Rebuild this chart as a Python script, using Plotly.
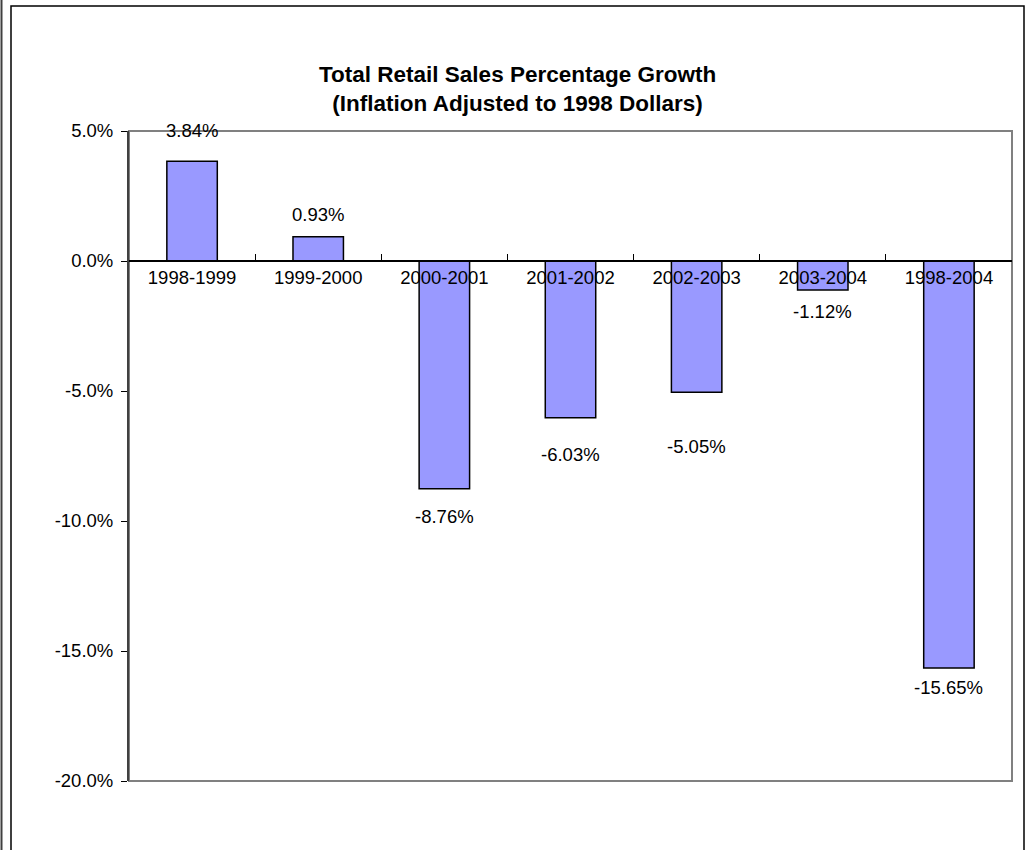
import plotly.graph_objects as go

categories = ["1998-1999", "1999-2000", "2000-2001", "2001-2002", "2002-2003", "2003-2004", "1998-2004"]
growth_pct = [3.84, 0.93, -8.76, -6.03, -5.05, -1.12, -15.65]
y_tick_vals = [5, 0, -5, -10, -15, -20]
y_tick_text = ["5.0%", "0.0%", "-5.0%", "-10.0%", "-15.0%", "-20.0%"]

# pixel offsets of the value labels relative to bar ends (style)
label_shift = [31, 22, -28, -37, -54, -21, -20]

FONT = "Liberation Sans, Arial, sans-serif"
LBL = 18.5

fig = go.Figure()
fig.add_trace(go.Bar(
    x=categories, y=growth_pct,
    marker=dict(color="#9999FF", line=dict(color="black", width=1.5)),
    width=0.4, showlegend=False, hoverinfo="x+y",
))

for c, v, s in zip(categories, growth_pct, label_shift):
    fig.add_annotation(x=c, y=v, text=f"{v:.2f}%", showarrow=False,
                       yshift=s, yanchor="middle", xanchor="center",
                       font=dict(family=FONT, size=LBL, color="black"))

W, H = 1032, 850
L, R, T, B = 129, 20, 131, 69
pw, ph = W - L - R, H - T - B

def px(x):
    return (x - L) / pw

def py(y):
    return (H - B - y) / ph

shapes = [
    # plot area frame (grey)
    dict(type="rect", xref="paper", yref="paper", x0=0, x1=1, y0=0, y1=1,
         line=dict(color="#808080", width=2), layer="below"),
    # chart area border
    dict(type="rect", xref="paper", yref="paper", x0=px(11), x1=px(1024), y0=py(870), y1=py(6),
         line=dict(color="black", width=1.5)),
    # page edge line on left
    dict(type="line", xref="paper", yref="paper", x0=px(1.5), x1=px(1.5), y0=py(870), y1=py(-20),
         line=dict(color="#404040", width=2)),
]

fig.add_annotation(xref="paper", yref="paper", x=px(517), y=py(89),
                   text="<b>Total Retail Sales Percentage Growth<br>(Inflation Adjusted to 1998 Dollars)</b>",
                   showarrow=False, xanchor="center", yanchor="middle",
                   font=dict(family=FONT, size=22.5, color="black"))

fig.update_layout(
    width=W, height=H,
    margin=dict(l=L, r=R, t=T, b=B, pad=0),
    paper_bgcolor="white", plot_bgcolor="white",
    shapes=shapes,
    bargap=0.6,
    font=dict(family=FONT, size=LBL, color="black"),
    xaxis=dict(
        type="category", range=[-0.5, 6.5],
        anchor="free", position=py(261),
        showline=True, linecolor="black", linewidth=1.5,
        ticks="inside", ticklen=6, tickcolor="black", tickwidth=1,
        tickson="boundaries", showgrid=False, zeroline=False,
        tickfont=dict(family=FONT, size=LBL, color="black"),
    ),
    yaxis=dict(
        range=[-20, 5], tickvals=y_tick_vals, ticktext=y_tick_text,
        showline=True, linecolor="#404040", linewidth=2,
        ticks="outside", ticklen=6, tickcolor="black", tickwidth=1,
        showgrid=False, zeroline=False, ticklabelstandoff=4,
        tickfont=dict(family=FONT, size=LBL, color="black"),
    ),
)

fig.write_html("out.html", config={"displayModeBar": False},
               post_script="document.body.style.margin='0';document.body.style.overflow='hidden';")
